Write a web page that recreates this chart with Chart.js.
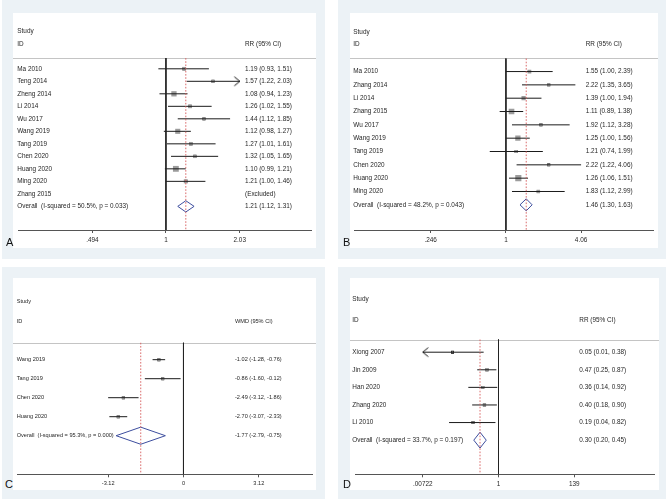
<!DOCTYPE html>
<html>
<head>
<meta charset="utf-8">
<script src="https://cdn.jsdelivr.net/npm/chart.js@4.4.1/dist/chart.umd.min.js"></script>
<style>
  body { margin: 0; background: #fff; }
  #fig { position: relative; width: 669px; height: 502px; overflow: hidden; }
  .panel { position: absolute; background: #ecf2f6; }
  .plot { position: absolute; background: #fff; }
  .plot canvas { display: block; }
  .tag { position: absolute; font: 11px "Liberation Sans", Arial, sans-serif; color: #111; line-height: 1; z-index: 2; }
</style>
</head>
<body>
<div id="fig">
  <div class="panel" style="left:2px;top:0;width:323px;height:259px"></div>
  <div class="panel" style="left:338px;top:0;width:328px;height:259px"></div>
  <div class="panel" style="left:2px;top:267px;width:323px;height:232px"></div>
  <div class="panel" style="left:338px;top:267px;width:328px;height:232px"></div>
  <div class="plot" style="left:13px;top:13px;width:303px;height:235px"><canvas id="cA" width="303" height="235"></canvas></div>
  <div class="plot" style="left:350px;top:13px;width:308px;height:235px"><canvas id="cB" width="308" height="235"></canvas></div>
  <div class="plot" style="left:13px;top:278px;width:303px;height:212px"><canvas id="cC" width="303" height="212"></canvas></div>
  <div class="plot" style="left:350px;top:278px;width:309px;height:212px"><canvas id="cD" width="309" height="212"></canvas></div>
  <div class="tag" style="left:6px;top:237px">A</div>
  <div class="tag" style="left:343px;top:237px">B</div>
  <div class="tag" style="left:5px;top:479px">C</div>
  <div class="tag" style="left:343px;top:479px">D</div>
</div>
<script>
// A - RR (95% CI)
var namesA = ['Ma 2010', 'Teng 2014', 'Zheng 2014', 'Li 2014', 'Wu 2017', 'Wang 2019', 'Tang 2019', 'Chen 2020', 'Huang 2020', 'Ming 2020', 'Zhang 2015'];
var estA = [1.19, 1.57, 1.08, 1.26, 1.44, 1.12, 1.27, 1.32, 1.10, 1.21, null];
var loA = [0.93, 1.22, 0.94, 1.02, 1.12, 0.98, 1.01, 1.05, 0.99, 1.00, null];
var hiA = [1.51, 2.03, 1.23, 1.55, 1.85, 1.27, 1.61, 1.65, 1.21, 1.46, null];
var weightA = [7, 5, 14, 7, 5, 13, 7, 6, 17, 8, 0];
var arrowA = [null, 'right', null, null, null, null, null, null, null, null, null];
var overallA = [1.21, 1.12, 1.31];
var hetA = 'Overall  (I-squared = 50.5%, p = 0.033)';
var ticksA = [0.494, 1, 2.03];
var tickLabelsA = ['.494', '1', '2.03'];

// B - RR (95% CI)
var namesB = ['Ma 2010', 'Zhang 2014', 'Li 2014', 'Zhang 2015', 'Wu 2017', 'Wang 2019', 'Tang 2019', 'Chen 2020', 'Huang 2020', 'Ming 2020'];
var estB = [1.55, 2.22, 1.39, 1.11, 1.92, 1.25, 1.21, 2.22, 1.26, 1.83];
var loB = [1.00, 1.35, 1.00, 0.89, 1.12, 1.00, 0.74, 1.22, 1.06, 1.12];
var hiB = [2.39, 3.65, 1.94, 1.38, 3.28, 1.56, 1.99, 4.06, 1.51, 2.99];
var weightB = [7, 5, 9, 16, 5, 14, 5, 4, 19, 6];
var arrowB = [null, null, null, null, null, null, null, null, null, null];
var overallB = [1.46, 1.30, 1.63];
var hetB = 'Overall  (I-squared = 48.2%, p = 0.043)';
var ticksB = [0.246, 1, 4.06];
var tickLabelsB = ['.246', '1', '4.06'];

// C - WMD (95% CI)
var namesC = ['Wang 2019', 'Tang 2019', 'Chen 2020', 'Huang 2020'];
var estC = [-1.02, -0.86, -2.49, -2.70];
var loC = [-1.28, -1.60, -3.12, -3.07];
var hiC = [-0.76, -0.12, -1.86, -2.33];
var weightC = [27, 22, 24, 27];
var arrowC = [null, null, null, null];
var overallC = [-1.77, -2.79, -0.75];
var hetC = 'Overall  (I-squared = 95.3%, p = 0.000)';
var ticksC = [-3.12, 0, 3.12];
var tickLabelsC = ['-3.12', '0', '3.12'];

// D - RR (95% CI)
var namesD = ['Xiong 2007', 'Jin 2009', 'Han 2020', 'Zhang 2020', 'Li 2010'];
var estD = [0.05, 0.47, 0.36, 0.40, 0.19];
var loD = [0.01, 0.25, 0.14, 0.18, 0.04];
var hiD = [0.38, 0.87, 0.92, 0.90, 0.82];
var weightD = [8, 30, 20, 28, 14];
var arrowD = ['left', null, null, null, null];
var overallD = [0.30, 0.20, 0.45];
var hetD = 'Overall  (I-squared = 33.7%, p = 0.197)';
var ticksD = [0.00722, 1, 139];
var tickLabelsD = ['.00722', '1', '139'];

var FONT = '"Liberation Sans", Arial, sans-serif';
var INK = '#262626';

// open chevron used as the point style for CIs running off the axis
var arrowHead = document.createElement('canvas');
arrowHead.width = 14;
arrowHead.height = 14;
(function () {
    var g = arrowHead.getContext('2d');
    g.strokeStyle = '#111';
    g.lineWidth = 1;
    g.beginPath();
    g.moveTo(1.5, 2.5);
    g.lineTo(7, 7);
    g.lineTo(1.5, 11.5);
    g.stroke();
})();

function ciText(e, l, h) {
    return e.toFixed(2) + ' (' + l.toFixed(2) + ', ' + h.toFixed(2) + ')';
}

function forest(id, d, lay) {
    var n = d.names.length;
    var yMin = -lay.rowTop / lay.rowStep;
    var yMax = (lay.axisY - lay.rowTop) / lay.rowStep;
    var last = d.ticks.length - 1;

    var ci = [], heads = [], boxes = [];
    d.est.forEach(function (e, i) {
        if (e === null) return;
        var lo = d.arrow[i] === 'left' ? d.ticks[0] : d.lo[i];
        var hi = d.arrow[i] === 'right' ? d.ticks[last] : d.hi[i];
        ci.push({x: lo, y: i}, {x: hi, y: i}, {x: null, y: null});
        if (d.arrow[i]) heads.push({x: d.arrow[i] === 'left' ? lo : hi, y: i, rot: d.arrow[i] === 'left' ? 180 : 0});
        boxes.push({x: e, y: i, w: d.weight[i]});
    });
    var oe = d.overall[0], ol = d.overall[1], oh = d.overall[2];
    var diamond = [{x: ol, y: n}, {x: oe, y: n - 0.45}, {x: oh, y: n}, {x: oe, y: n + 0.45}, {x: ol, y: n}];
    var texts = d.est.map(function (e, i) {
        return e === null ? '(Excluded)' : ciText(e, d.lo[i], d.hi[i]);
    });

    var textPlugin = {
        id: 'forestText',
        beforeDatasetsDraw: function (chart) {
            var ctx = chart.ctx, y = chart.scales.y;
            var sy = Math.round(y.getPixelForValue(lay.sepRow)) + 0.5;
            ctx.save();
            ctx.strokeStyle = '#c4c4c4';
            ctx.lineWidth = 1;
            ctx.beginPath();
            ctx.moveTo(0, sy);
            ctx.lineTo(chart.width, sy);
            ctx.stroke();
            ctx.restore();
        },
        afterDraw: function (chart) {
            var ctx = chart.ctx, y = chart.scales.y;
            ctx.save();
            ctx.font = lay.font + 'px ' + FONT;
            ctx.fillStyle = INK;
            ctx.textBaseline = 'middle';
            ctx.textAlign = 'left';
            ctx.fillText('Study', lay.labelX, y.getPixelForValue(lay.head[0]));
            ctx.fillText('ID', lay.labelX, y.getPixelForValue(lay.head[1]));
            ctx.fillText(d.header, lay.textX, y.getPixelForValue(lay.head[1]));
            d.names.forEach(function (s, i) {
                var py = y.getPixelForValue(i);
                ctx.fillText(s, lay.labelX, py);
                ctx.fillText(texts[i], lay.textX, py);
            });
            ctx.fillText(d.het, lay.labelX, y.getPixelForValue(n));
            ctx.fillText(ciText(oe, ol, oh), lay.textX, y.getPixelForValue(n));
            ctx.restore();
        }
    };

    new Chart(document.getElementById(id), {
        type: 'scatter',
        data: {
            datasets: [
                {
                    data: [{x: d.nullValue, y: lay.sepRow}, {x: d.nullValue, y: yMax}],
                    showLine: true, borderColor: '#222', borderWidth: 1, pointRadius: 0
                },
                {
                    data: [{x: oe, y: lay.sepRow}, {x: oe, y: yMax}],
                    showLine: true, borderColor: '#d65a5a', borderWidth: 0.9, borderDash: [1.6, 1.6], pointRadius: 0
                },
                {
                    data: ci,
                    showLine: true, spanGaps: false, borderColor: '#1a1a1a', borderWidth: 1, pointRadius: 0
                },
                {
                    data: boxes,
                    pointStyle: 'rect', backgroundColor: '#9c9c9c', borderWidth: 0,
                    pointRadius: function (c) { return c.raw ? Math.sqrt(c.raw.w) * lay.box : 0; }
                },
                {
                    data: boxes,
                    pointStyle: 'rect', backgroundColor: '#000', borderWidth: 0, pointRadius: 2.1
                },
                {
                    data: heads,
                    pointStyle: arrowHead,
                    rotation: function (c) { return c.raw ? c.raw.rot : 0; }
                },
                {
                    data: diamond,
                    showLine: true, borderColor: '#3c4d9e', borderWidth: 1, pointRadius: 0
                }
            ]
        },
        options: {
            responsive: false,
            animation: false,
            devicePixelRatio: 1,
            events: [],
            layout: { padding: 0 },
            plugins: { legend: { display: false }, tooltip: { enabled: false } },
            scales: {
                x: {
                    type: d.log ? 'logarithmic' : 'linear',
                    min: lay.xMin,
                    max: lay.xMax,
                    bounds: 'data',
                    afterBuildTicks: function (s) {
                        s.ticks = d.ticks.map(function (v) { return {value: v}; });
                    },
                    afterFit: function (s) { s.height = lay.height - lay.axisY; },
                    ticks: {
                        autoSkip: false, maxRotation: 0, padding: 3,
                        color: INK, font: { family: FONT, size: lay.font },
                        callback: function (v, i) { return d.tickLabels[i]; }
                    },
                    grid: { drawOnChartArea: false, drawTicks: true, tickLength: 3, color: '#555' },
                    border: { display: true, color: '#555', width: 1 }
                },
                y: {
                    type: 'linear',
                    display: false,
                    reverse: true,
                    min: yMin,
                    max: yMax,
                    bounds: 'data'
                }
            }
        },
        plugins: [textPlugin]
    });
}

forest('cA',
    { names: namesA, est: estA, lo: loA, hi: hiA, weight: weightA, arrow: arrowA, overall: overallA,
      het: hetA, header: 'RR (95% CI)', ticks: ticksA, tickLabels: tickLabelsA, nullValue: 1, log: true },
    { height: 235, axisY: 217, rowTop: 52, rowStep: 12.8, sepRow: -0.86, head: [-2.97, -1.95],
      labelX: 4.3, textX: 232, font: 6.4, box: 1.0, xMin: 0.242, xMax: 4.02 });

forest('cB',
    { names: namesB, est: estB, lo: loB, hi: hiB, weight: weightB, arrow: arrowB, overall: overallB,
      het: hetB, header: 'RR (95% CI)', ticks: ticksB, tickLabels: tickLabelsB, nullValue: 1, log: true },
    { height: 235, axisY: 217, rowTop: 55.3, rowStep: 13.6, sepRow: -0.98, head: [-2.96, -2.08],
      labelX: 3.3, textX: 235.7, font: 6.4, box: 1.0, xMin: 0.0593, xMax: 15.7 });

forest('cC',
    { names: namesC, est: estC, lo: loC, hi: hiC, weight: weightC, arrow: arrowC, overall: overallC,
      het: hetC, header: 'WMD (95% CI)', ticks: ticksC, tickLabels: tickLabelsC, nullValue: 0, log: false },
    { height: 212, axisY: 196.3, rowTop: 79.3, rowStep: 19.4, sepRow: -0.89, head: [-3.07, -2.01],
      labelX: 3.7, textX: 222, font: 5.6, box: 0.42, xMin: -6.895, xMax: 5.323 });

forest('cD',
    { names: namesD, est: estD, lo: loD, hi: hiD, weight: weightD, arrow: arrowD, overall: overallD,
      het: hetD, header: 'RR (95% CI)', ticks: ticksD, tickLabels: tickLabelsD, nullValue: 1, log: true },
    { height: 212, axisY: 196.3, rowTop: 71, rowStep: 18.05, sepRow: -0.72, head: [-2.99, -1.84],
      labelX: 2.3, textX: 229.3, font: 6.4, box: 0.45, xMin: 0.0000874, xMax: 24970 });
</script>
</body>
</html>
